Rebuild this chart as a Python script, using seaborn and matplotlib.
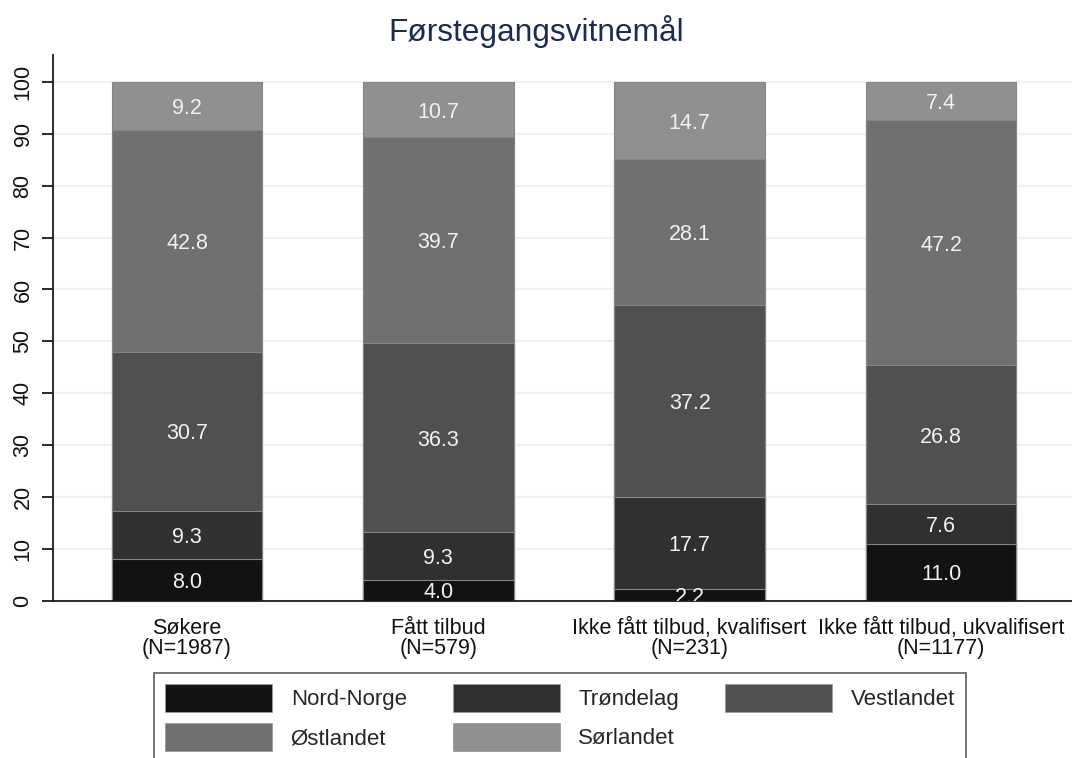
import numpy as np
import pandas as pd
import matplotlib
matplotlib.use("Agg")
import matplotlib.pyplot as plt
from matplotlib.patches import Patch
import seaborn as sns

# Groups of applicants and their share (%) by home region
groups = ["Søkere", "Fått tilbud", "Ikke fått tilbud, kvalifisert", "Ikke fått tilbud, ukvalifisert"]
n_counts = [1987, 579, 231, 1177]
regions = ["Nord-Norge", "Trøndelag", "Vestlandet", "Østlandet", "Sørlandet"]
nord_norge = [8.0, 4.0, 2.2, 11.0]
trondelag = [9.3, 9.3, 17.7, 7.6]
vestlandet = [30.7, 36.3, 37.2, 26.8]
ostlandet = [42.8, 39.7, 28.1, 47.2]
sorlandet = [9.2, 10.7, 14.7, 7.4]
region_colors = ["#121212", "#303030", "#505050", "#707070", "#909090"]

series = [nord_norge, trondelag, vestlandet, ostlandet, sorlandet]
tick_labels = [f"{g}\n(N={n})" for g, n in zip(groups, n_counts)]

# Long table with cumulative tops for stacking
rows = []
for r, vals in zip(regions, series):
    for g, v in zip(tick_labels, vals):
        rows.append({"group": g, "region": r, "value": v})
df = pd.DataFrame(rows)
df["region"] = pd.Categorical(df["region"], categories=regions, ordered=True)
df["group"] = pd.Categorical(df["group"], categories=tick_labels, ordered=True)
df = df.sort_values(["group", "region"])
df["top"] = df.groupby("group", observed=True)["value"].cumsum()
df["mid"] = df["top"] - df["value"] / 2

sns.set_style("white")
plt.rcParams["font.family"] = ["Liberation Sans", "DejaVu Sans"]

fig = plt.figure(figsize=(10.72, 7.58), dpi=100)
ax = fig.add_axes([53 / 1072, 1 - 600.7 / 758, 1 - 53 / 1072, (600.7 - 55) / 758])

# Draw stacked bars top-down: each layer covers the cumulative total
for r, c in reversed(list(zip(regions, region_colors))):
    sub = df[df["region"] == r]
    sns.barplot(data=sub, x="group", y="top", order=tick_labels, color=c,
                width=0.6, errorbar=None, edgecolor="#858585", linewidth=0.8,
                saturation=1, ax=ax, zorder=2)

# Value labels centred in each segment
for _, row in df.iterrows():
    xi = tick_labels.index(row["group"])
    ax.text(xi, row["mid"], f"{row['value']:.1f}", ha="center",
            va="center_baseline", color="#eef2f4", fontsize=15.5,
            clip_on=True, zorder=3)

ax.set_xlim(-0.533, 3.521)
ax.set_ylim(0, 105.2)
ax.set_yticks(np.arange(0, 101, 10))
ax.set_xlabel("")
ax.set_ylabel("")
ax.yaxis.grid(True, color="#eaf2f3", linewidth=1.6)
ax.xaxis.grid(False)
ax.set_axisbelow(True)

for side in ["top", "right"]:
    ax.spines[side].set_visible(False)
for side in ["left", "bottom"]:
    ax.spines[side].set_color("#1a1a1a")
    ax.spines[side].set_linewidth(1.3)

ax.tick_params(axis="y", left=True, length=8, width=1.3, color="#1a1a1a",
               labelsize=15.5, labelrotation=90, pad=6, labelcolor="#111111")
for lab in ax.get_yticklabels():
    lab.set_va("center")
ax.tick_params(axis="x", bottom=False, length=0, labelsize=15.5, pad=12.5,
               labelcolor="#111111")
for lab in ax.get_xticklabels():
    lab.set_linespacing(0.95)

fig.text(0.5, 1 - 32 / 758, "Førstegangsvitnemål", ha="center", va="center",
         fontsize=22.8, color="#1c2b50")

# Legend filled row by row (matplotlib fills columns first)
order = [0, 3, 1, 4, 2]
handles = [Patch(facecolor=region_colors[i], edgecolor="#9a9a9a",
                 linewidth=0.6, label=regions[i]) for i in order]
leg = fig.legend(handles=handles, ncol=3, loc="upper left",
                 bbox_to_anchor=(154 / 1072, 1 - 673 / 758), borderaxespad=0,
                 fontsize=16, handlelength=4.8, handleheight=1.55,
                 handletextpad=0.85, columnspacing=2.08, labelspacing=0.5,
                 borderpad=0.5, fancybox=False, frameon=True)
leg.get_frame().set_edgecolor("#333333")
leg.get_frame().set_linewidth(1.2)

fig.savefig("out.png", dpi=100)
